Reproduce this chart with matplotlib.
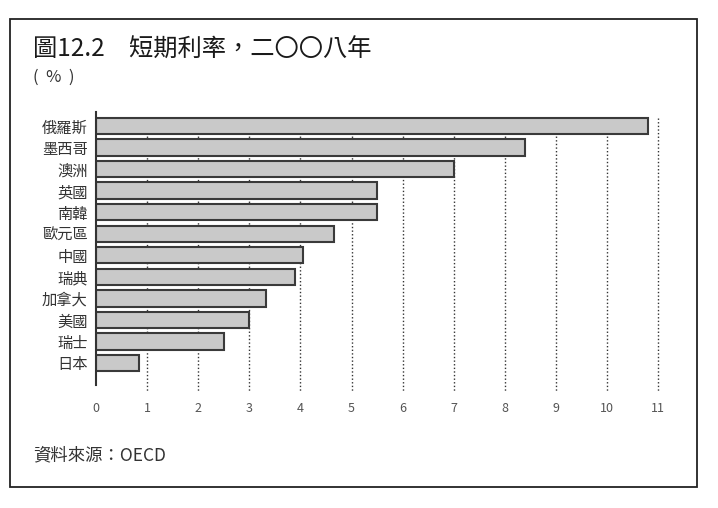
import matplotlib
matplotlib.use("Agg")
import matplotlib.pyplot as plt
from matplotlib.patches import Rectangle

plt.rcParams['font.family'] = ['Noto Sans CJK TC', 'DejaVu Sans']

categories = ["俄羅斯", "墨西哥", "澳洲", "英國", "南韓", "歐元區",
              "中國", "瑞典", "加拿大", "美國", "瑞士", "日本"]
values = [10.8, 8.4, 7.0, 5.5, 5.5, 4.65, 4.05, 3.9, 3.33, 3.0, 2.5, 0.85]
xticks = list(range(0, 12))
title = "圖12.2　短期利率，二〇〇八年"
unit = "(  %  )"
source = "資料來源：OECD"

W, H = 718, 508
fig = plt.figure(figsize=(W / 100, H / 100), dpi=100)

def fx(px):
    return px / W

def fy(py):
    return 1 - py / H

# axes: x 0 at px 96, 51.1 px per unit; y top 112 px, bottom 392 px
x0_px, ppu = 96, 51.1
xmax = 11.3
top_px, bot_px = 112, 392
ax = fig.add_axes([fx(x0_px), fy(bot_px), (xmax * ppu) / W, (bot_px - top_px) / H])
ax.set_xlim(0, xmax)
yppu = (363 - 126) / 11
ytop = -(126 - top_px) / yppu
ybot = 11 + (bot_px - 363) / yppu
ax.set_ylim(ybot, ytop)

ypos = list(range(len(categories)))
grid_top = -(126 - 118) / yppu
ax.vlines(xticks[1:], grid_top, ybot, colors="#333333", linestyles=(0, (1, 1.6)),
          linewidth=1.0, zorder=1)
ax.barh(ypos, values, height=0.76, color="#c9c9c9", edgecolor="#3a3a3a",
        linewidth=1.5, zorder=2)

for s in ["top", "right", "bottom"]:
    ax.spines[s].set_visible(False)
ax.spines["left"].set_linewidth(1.5)
ax.spines["left"].set_color("#333333")
ax.spines["left"].set_bounds(ytop, 11 + (385 - 363) / yppu)

ax.set_yticks(ypos)
ax.set_yticklabels(categories, fontsize=11, color="#333333")
ax.set_xticks(xticks)
ax.set_xticklabels([str(t) for t in xticks], fontsize=9, color="#555555")
ax.tick_params(axis="both", length=0)
ax.tick_params(axis="y", pad=6)
ax.tick_params(axis="x", pad=7)
ax.patch.set_alpha(0)

fig.text(fx(33), fy(50), title, fontsize=17.5, color="#1a1a1a", va="center", ha="left")
fig.text(fx(33), fy(77), unit, fontsize=12, color="#333333", va="center", ha="left")
fig.text(fx(33), fy(455), source, fontsize=12.5, color="#333333", va="center", ha="left")

fig.add_artist(Rectangle((fx(10), fy(487)), (697 - 10) / W, (487 - 19) / H,
                         transform=fig.transFigure, fill=False,
                         edgecolor="#222222", linewidth=1.3))

fig.savefig("out.png", dpi=100)
